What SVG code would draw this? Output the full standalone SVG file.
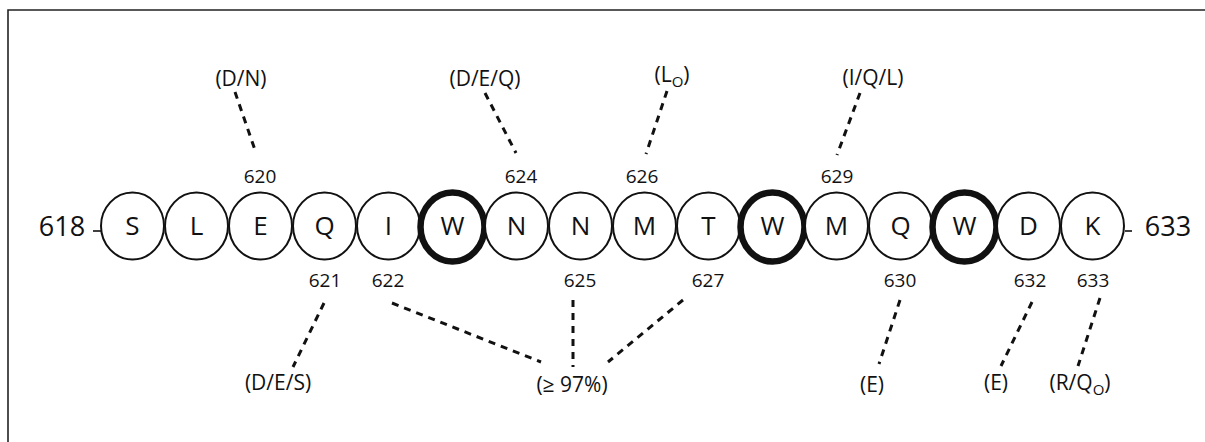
<svg xmlns="http://www.w3.org/2000/svg" width="1205" height="442" viewBox="0 0 1205 442">
  <style>
    text { font-family: "Open Sans", "Noto Sans", "Liberation Sans", sans-serif; fill: #111; text-anchor: middle; }
    .res { font-size: 26px; }
    .end { font-size: 27px; }
    .num { font-size: 19px; }
    .sub { font-size: 21px; }
    .sub tspan.o { font-size: 15px; }
    .ring { fill: #fff; stroke: #111; stroke-width: 2; }
    .ring.hot { stroke-width: 6.5; }
    .link { stroke: #111; stroke-width: 3; stroke-dasharray: 7 6; fill: none; }
    .tick { stroke: #111; stroke-width: 1.6; }
  </style>

  <!-- frame -->
  <path d="M1205 10 H8 V442" fill="none" stroke="#222" stroke-width="1.6"/>

  <!-- terminal labels -->
  <g id="n-start">
    <text class="end" x="62" y="236">618</text>
    <line class="tick" x1="93" y1="231" x2="101" y2="231"/>
  </g>
  <g id="n-end">
    <line class="tick" x1="1125" y1="231" x2="1132" y2="231"/>
    <text class="end" x="1168" y="236">633</text>
  </g>

  <!-- residue chain -->
  <g id="r0"><ellipse class="ring" cx="132.5" cy="226" rx="31.5" ry="33.5"/><text class="res" x="132.5" y="235">S</text></g>
  <g id="r1"><ellipse class="ring" cx="196.5" cy="226" rx="31.5" ry="33.5"/><text class="res" x="196.5" y="235">L</text></g>
  <g id="r2"><ellipse class="ring" cx="260.5" cy="226" rx="31.5" ry="33.5"/><text class="res" x="260.5" y="235">E</text></g>
  <g id="r3"><ellipse class="ring" cx="324.5" cy="226" rx="31.5" ry="33.5"/><text class="res" x="324.5" y="235">Q</text></g>
  <g id="r4"><ellipse class="ring" cx="388.5" cy="226" rx="31.5" ry="33.5"/><text class="res" x="388.5" y="235">I</text></g>
  <g id="r5"><ellipse class="ring hot" cx="452.5" cy="227" rx="32" ry="34.5"/><text class="res" x="452.5" y="235">W</text></g>
  <g id="r6"><ellipse class="ring" cx="516.5" cy="226" rx="31.5" ry="33.5"/><text class="res" x="516.5" y="235">N</text></g>
  <g id="r7"><ellipse class="ring" cx="580.5" cy="226" rx="31.5" ry="33.5"/><text class="res" x="580.5" y="235">N</text></g>
  <g id="r8"><ellipse class="ring" cx="644.5" cy="226" rx="31.5" ry="33.5"/><text class="res" x="644.5" y="235">M</text></g>
  <g id="r9"><ellipse class="ring" cx="708.5" cy="226" rx="31.5" ry="33.5"/><text class="res" x="708.5" y="235">T</text></g>
  <g id="r10"><ellipse class="ring hot" cx="772.5" cy="227" rx="32" ry="34.5"/><text class="res" x="772.5" y="235">W</text></g>
  <g id="r11"><ellipse class="ring" cx="836.5" cy="226" rx="31.5" ry="33.5"/><text class="res" x="836.5" y="235">M</text></g>
  <g id="r12"><ellipse class="ring" cx="900.5" cy="226" rx="31.5" ry="33.5"/><text class="res" x="900.5" y="235">Q</text></g>
  <g id="r13"><ellipse class="ring hot" cx="964.5" cy="227" rx="32" ry="34.5"/><text class="res" x="964.5" y="235">W</text></g>
  <g id="r14"><ellipse class="ring" cx="1028.5" cy="226" rx="31.5" ry="33.5"/><text class="res" x="1028.5" y="235">D</text></g>
  <g id="r15"><ellipse class="ring" cx="1092.5" cy="226" rx="31.5" ry="33.5"/><text class="res" x="1092.5" y="235">K</text></g>

  <!-- position numbers -->
  <g id="pos">
    <text class="num" x="260" y="183">620</text>
    <text class="num" x="521" y="183">624</text>
    <text class="num" x="642" y="183">626</text>
    <text class="num" x="837" y="183">629</text>
    <text class="num" x="325" y="287">621</text>
    <text class="num" x="388" y="287">622</text>
    <text class="num" x="580" y="287">625</text>
    <text class="num" x="708" y="287">627</text>
    <text class="num" x="900" y="287">630</text>
    <text class="num" x="1030" y="287">632</text>
    <text class="num" x="1093" y="287">633</text>
  </g>

  <!-- substitution labels -->
  <g id="l-620"><text class="sub" x="241" y="86">(D/N)</text></g>
  <g id="l-624"><text class="sub" x="485" y="86">(D/E/Q)</text></g>
  <g id="l-626"><text class="sub" x="672" y="82">(L<tspan class="o" dy="5">O</tspan><tspan dy="-5">)</tspan></text></g>
  <g id="l-629"><text class="sub" x="873" y="85">(I/Q/L)</text></g>
  <g id="l-621"><text class="sub" x="278" y="390">(D/E/S)</text></g>
  <g id="l-cons"><text class="sub" x="572" y="392">(≥ 97%)</text></g>
  <g id="l-630"><text class="sub" x="872" y="392">(E)</text></g>
  <g id="l-632"><text class="sub" x="996" y="390">(E)</text></g>
  <g id="l-633"><text class="sub" x="1080" y="390">(R/Q<tspan class="o" dy="5">O</tspan><tspan dy="-5">)</tspan></text></g>

  <!-- dashed leaders -->
  <g id="connectors">
    <line class="link" x1="235" y1="92" x2="255" y2="150"/>
    <line class="link" x1="485" y1="93" x2="516" y2="153"/>
    <line class="link" x1="667" y1="91" x2="646" y2="154"/>
    <line class="link" x1="860" y1="93" x2="837" y2="155"/>
    <line class="link" x1="324" y1="303" x2="293" y2="367"/>
    <line class="link" x1="392" y1="303" x2="541" y2="362"/>
    <line class="link" x1="573" y1="300" x2="573" y2="367"/>
    <line class="link" x1="683" y1="300" x2="608" y2="362"/>
    <line class="link" x1="900" y1="300" x2="879" y2="364"/>
    <line class="link" x1="1032" y1="302" x2="1001" y2="366"/>
    <line class="link" x1="1100" y1="298" x2="1078" y2="366"/>
  </g>
</svg>
